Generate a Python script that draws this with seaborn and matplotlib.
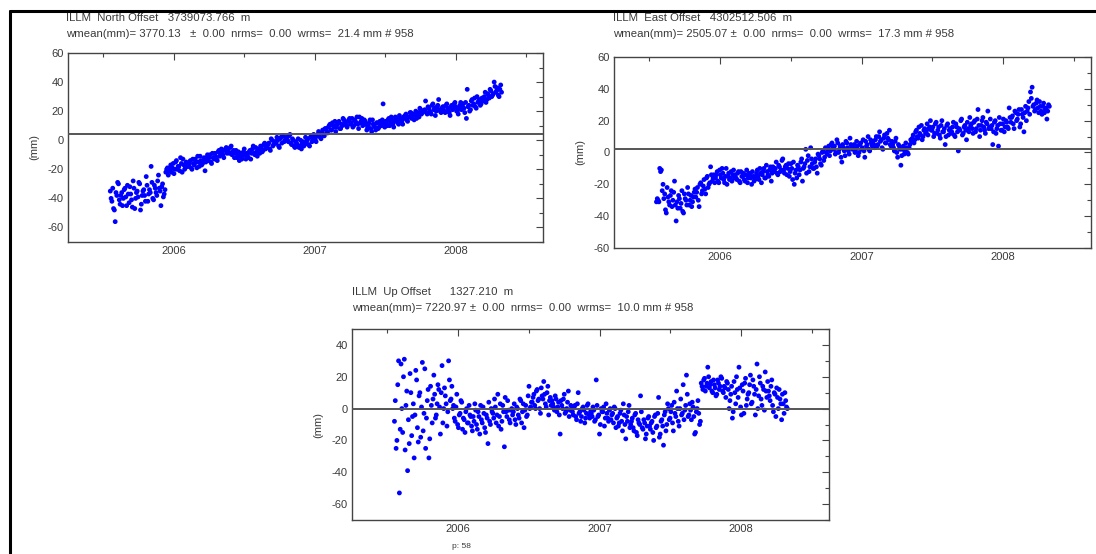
import numpy as np
import pandas as pd
import matplotlib
matplotlib.use("Agg")
import matplotlib.pyplot as plt
from matplotlib.lines import Line2D
from matplotlib.ticker import MultipleLocator
import seaborn as sns

# ---------------- data (mm) ----------------
epoch_start = 2005.55
epoch_end = 2008.32

north_mm = [
    -35, -42, -47, -56, -38, -30, -44, -36, -40, -33, -45, -37,
    -32, -41, -28, -47, -36, -39, -30, -44, -35, -38, -25, -42,
    -34, -18, -40, -31, -36, -28, -33, -45, -30, -37, -22, -19,
    -21, -17, -19, -23, -15, -20, -18, -12, -22, -17, -19, -16,
    -18, -14, -20, -16, -13, -19, -15, -11, -17, -14, -21, -12,
    -14, -10, -16, -12, -9, -13, -8, -11, -6, -10, -7, -5,
    -6, -9, -4, -8, -12, -7, -10, -14, -9, -11, -6, -13,
    -10, -8, -13, -6, -9, -5, -11, -7, -4, -8, -3, -6,
    -5, -2, -7, 0, -3, -1, 2, -4, 1, -2, 3, 0,
    2, -1, 4, -3, 0, -5, -2, 1, -4, -6, -1, -3,
    -2, 1, -4, 3, 0, 2, -1, 4, 5, 1, 7, 3,
    8, 5, 10, 7, 12, 9, 6, 11, 13, 8, 10, 14,
    12, 9, 14, 11, 15, 10, 13, 16, 8, 12, 15, 11,
    13, 7, 10, 14, 6, 11, 9, 12, 8, 13, 10, 25,
    9, 12, 14, 10, 16, 11, 13, 15, 12, 17, 14, 11,
    15, 18, 13, 16, 19, 17, 14, 20, 18, 16, 21, 19,
    20, 27, 18, 22, 19, 24, 21, 17, 23, 28, 20, 22,
    23, 19, 25, 21, 17, 24, 22, 26, 20, 18, 24, 21,
    25, 19, 15, 23, 20, 27, 24, 29, 22, 26, 28, 25,
    27, 30, 26, 32, 29, 34, 31, 40, 33, 36, 30, 38,
]
north_mm_mid = [
    -40, -33, -48, -36, -29, -41, -38, -45, -34, -39, -31, -43,
    -37, -46, -33, -40, -35, -29, -48, -38, -34, -42, -31, -37,
    -36, -29, -41, -33, -38, -24, -35, -32, -39, -34, -20, -24,
    -19, -22, -16, -20, -14, -18, -21, -16, -13, -20, -15, -18,
    -16, -19, -13, -17, -15, -11, -18, -14, -16, -12, -15, -10,
    -12, -15, -9, -13, -11, -14, -7, -10, -8, -12, -6, -9,
    -8, -5, -10, -7, -9, -12, -8, -11, -13, -8, -10, -9,
    -12, -7, -9, -4, -10, -8, -6, -9, -5, -7, -2, -5,
    -3, -6, 1, -4, -1, -2, 0, -5, 2, 3, -1, 1,
    0, 3, -2, 1, -4, -1, -3, -5, 0, -2, -4, 2,
    0, -3, 2, -1, 4, 1, 3, 6, 2, 5, 4, 8,
    6, 9, 11, 7, 10, 13, 9, 12, 8, 11, 15, 12,
    10, 13, 15, 12, 9, 14, 12, 11, 16, 13, 10, 14,
    11, 9, 12, 8, 14, 10, 7, 12, 9, 11, 14, 12,
    13, 10, 15, 12, 14, 9, 16, 13, 11, 15, 13, 16,
    17, 14, 16, 19, 15, 18, 17, 15, 19, 22, 18, 20,
    21, 19, 23, 20, 18, 25, 22, 20, 24, 21, 19, 23,
    20, 24, 22, 19, 23, 21, 25, 23, 20, 22, 26, 23,
    22, 26, 35, 24, 21, 28, 25, 23, 30, 27, 24, 29,
    29, 33, 28, 31, 35, 30, 32, 37, 34, 31, 35, 33,
]

east_mm = [
    -31, -30, -10, -11, -20, -26, -38, -28, -33, -24, -30, -18,
    -43, -35, -29, -32, -37, -26, -30, -22, -33, -27, -31, -25,
    -28, -22, -34, -19, -24, -17, -26, -15, -20, -9, -18, -14,
    -16, -12, -19, -14, -10, -17, -15, -20, -13, -16, -18, -11,
    -14, -17, -12, -19, -15, -13, -18, -11, -16, -14, -20, -15,
    -17, -13, -15, -10, -19, -12, -16, -8, -14, -11, -18, -9,
    -12, -6, -14, -9, -11, -4, -13, -8, -10, -15, -7, -17,
    -20, -11, -8, -14, -6, -18, -9, 2, -5, -12, 3, -7,
    -10, -4, -13, -2, -7, 0, -5, 3, -1, 4, 1, 6,
    2, -1, 8, 0, 4, -6, 3, -2, 6, 1, 9, 4,
    3, 0, 7, -2, 5, 2, 8, -3, 4, 10, 1, 6,
    7, 3, 10, 5, 13, 8, 2, 11, 6, 9, 14, 4,
    5, 1, 9, -3, 4, -8, 2, -1, 6, 0, 3, 8,
    9, 6, 13, 10, 16, 11, 8, 14, 12, 18, 15, 20,
    14, 10, 18, 12, 16, 9, 20, 13, 5, 17, 11, 15,
    13, 19, 10, 16, 1, 14, 21, 12, 17, 8, 15, 22,
    18, 12, 20, 15, 27, 10, 17, 22, 14, 19, 26, 16,
    15, 5, 19, 12, 17, 22, 14, 18, 13, 20, 16, 28,
    19, 23, 15, 25, 21, 27, 18, 24, 13, 29, 26, 32,
    38, 41, 30, 27, 33, 25, 29, 24, 31, 27, 21, 30,
]
east_mm_mid = [
    -29, -31, -12, -24, -29, -36, -22, -31, -27, -34, -25, -33,
    -31, -27, -35, -24, -38, -29, -33, -26, -30, -34, -28, -23,
    -25, -30, -20, -26, -21, -23, -16, -22, -19, -14, -16, -19,
    -14, -18, -11, -16, -13, -19, -10, -15, -17, -12, -14, -16,
    -16, -13, -18, -12, -15, -17, -14, -19, -13, -16, -12, -18,
    -15, -11, -17, -13, -14, -10, -16, -12, -15, -9, -13, -11,
    -10, -13, -8, -12, -5, -11, -9, -14, -7, -12, -10, -6,
    -13, -16, -9, -11, -4, -10, -7, -13, -2, -9, -4, -10,
    -6, -9, -1, -4, -8, 1, -3, 0, 2, -2, 5, 3,
    4, 0, 6, 2, -3, 5, 1, 7, 3, -1, 5, 2,
    5, 2, 4, 0, 6, 3, 1, 7, 5, 2, 8, 4,
    5, 8, 4, 10, 7, 3, 9, 6, 12, 8, 5, 7,
    3, 7, 0, 5, 2, -2, 4, 1, 3, -1, 5, 7,
    11, 8, 14, 9, 12, 17, 10, 15, 13, 11, 16, 14,
    16, 12, 19, 14, 11, 17, 13, 15, 10, 18, 14, 12,
    16, 11, 18, 13, 15, 20, 11, 16, 14, 19, 13, 17,
    15, 19, 13, 21, 17, 14, 20, 16, 12, 18, 15, 21,
    17, 13, 20, 15, 4, 18, 14, 21, 16, 19, 15, 22,
    22, 18, 26, 20, 24, 16, 27, 22, 25, 20, 28, 24,
    34, 29, 26, 31, 28, 32, 26, 29, 25, 28, 26, 29,
]

up_mm = [
    -8, -25, 15, -53, 28, -15, 31, 2, -39, -22, 10, -5,
    -31, 24, -12, 8, -18, 29, -3, -25, 5, -31, 14, -9,
    21, -6, 3, 12, -16, 27, 0, 8, -11, 30, 5, 14,
    2, -8, 9, -12, -3, 4, -6, -15, 0, -9, -4, -11,
    -5, 3, -10, -2, -16, -7, 1, -12, -4, -22, -8, 0,
    -3, 6, -9, 9, -5, -13, 2, -24, -2, 5, -7, -1,
    -4, 3, -10, 0, -6, 5, -2, -12, 2, -4, 14, 1,
    4, 9, 0, 12, 6, -3, 8, 17, 3, 10, -4, 7,
    5, 1, 8, -2, 4, -16, 2, 6, -3, 0, 11, -1,
    0, -4, 2, -7, 10, -2, -5, 1, -9, -3, 3, -6,
    -3, 1, -8, 18, -5, -16, 0, -2, -11, 3, -6, -1,
    -7, -3, 1, -12, -5, -9, -1, -14, -4, -19, -8, 2,
    -10, -6, -14, -3, -17, -9, 8, -12, -7, -19, -11, -5,
    -13, -8, -20, -4, -11, 7, -16, -7, -23, -2, -10, 0,
    -6, 2, -14, -3, 11, -8, 0, -4, 15, -1, 21, -5,
    3, -7, 1, -16, -2, 5, -10, 16, 12, 19, 14, 26,
    13, 17, 10, 15, 8, 18, 12, 20, 11, 14, 7, 16,
    0, 9, -6, 17, 3, 12, 26, 1, 15, -3, 19, 6,
    10, 21, 4, 14, -4, 28, 8, 16, 2, 12, 23, 7,
    11, 5, 18, -2, 9, 13, 0, 6, -7, 3, 10, 1,
]
up_mm_mid = [
    5, -20, 30, -13, 0, 20, -26, 11, -7, 22, -17, 3,
    -4, 18, -21, 10, 1, -14, 25, -6, 12, -19, 2, 6,
    9, -4, 15, 1, 10, -9, 13, 3, -2, 18, 6, 0,
    -6, 1, -10, -4, 5, -13, -7, -2, -9, 2, -5, -14,
    -8, -1, -13, -5, 2, -9, -3, -15, -6, 4, -10, -2,
    -6, 1, -4, -11, 3, -8, -2, 7, -5, -1, -9, 0,
    -2, -7, 1, -4, 6, -9, 3, -1, -5, 8, 0, 4,
    7, 2, 11, 5, 0, 13, 6, 9, 1, 14, 5, 2,
    3, -1, 6, 1, -4, 5, 0, 9, -2, 4, -5, 2,
    -2, 1, -5, 3, -3, -8, 0, -1, -6, 2, -4, -2,
    -5, -1, -7, 2, -4, -10, -2, 1, -6, -3, -8, 0,
    -4, -9, 0, -6, -11, -3, -8, 3, -10, -5, -2, -12,
    -8, -12, -4, -15, -7, -10, -2, -13, -9, -16, -6, -11,
    -9, -15, -5, -12, -3, -18, -8, -11, -4, -14, 3, -7,
    -2, -9, 4, -5, 0, -11, 6, -3, -7, 2, 9, -4,
    -1, 4, -5, -15, 0, -3, -8, 14, 18, 11, 16, 20,
    15, 11, 18, 13, 9, 16, 14, 19, 10, 13, 17, 12,
    5, 14, -2, 10, 20, 7, 13, -4, 11, 16, 2, 9,
    15, 3, 18, 9, 12, 0, 20, 6, 14, -1, 11, 17,
    8, 14, 2, 10, -5, 7, 12, 3, 9, -3, 5, 0,
]

ref_line_mm = {"North": 4, "East": 2, "Up": 0}

titles = {
    "North": ["ILLM  North Offset   3739073.766  m",
              "wmean(mm)= 3770.13   ±  0.00  nrms=  0.00  wrms=  21.4 mm # 958"],
    "East": ["ILLM  East Offset   4302512.506  m",
             "wmean(mm)= 2505.07 ±  0.00  nrms=  0.00  wrms=  17.3 mm # 958"],
    "Up": ["ILLM  Up Offset      1327.210  m",
           "wmean(mm)= 7220.97 ±  0.00  nrms=  0.00  wrms=  10.0 mm # 958"],
}
year_ticks = [2006, 2007, 2008]
footer = "p: 58"

# ---------------- figure ----------------
sns.set_theme(style="white")
plt.rcParams["font.family"] = ["Liberation Sans", "DejaVu Sans"]

W, H = 1096, 554
fig = plt.figure(figsize=(W / 100, H / 100), dpi=100)
fig.patch.set_facecolor("white")

def px_axes(left, top, right, bottom):
    return fig.add_axes([left / W, 1 - bottom / H, (right - left) / W, (bottom - top) / H])

def series_frame(vals, vals_mid):
    n = len(vals)
    t = np.linspace(epoch_start, epoch_end, n)
    half = (t[1] - t[0]) / 2
    return pd.DataFrame({"year": np.concatenate([t, t[: len(vals_mid)] + half]),
                         "mm": list(vals) + list(vals_mid)})

panels = {
    "North": dict(box=(68, 53, 543, 242), ylim=(-70, 60), yticks=[-60, -40, -20, 0, 20, 40, 60],
                  title_xy=(66, 18), data=(north_mm, north_mm_mid)),
    "East": dict(box=(614, 57, 1091, 248), ylim=(-60, 60), yticks=[-60, -40, -20, 0, 20, 40, 60],
                 title_xy=(613, 18), data=(east_mm, east_mm_mid)),
    "Up": dict(box=(352, 329, 829, 520), ylim=(-70, 50), yticks=[-60, -40, -20, 0, 20, 40],
               title_xy=(352, 292), data=(up_mm, up_mm_mid)),
}

txt_color = "#3a3a3a"
fs = 8.2
for name, p in panels.items():
    df = series_frame(*p["data"])
    ax = px_axes(*p["box"])
    sns.scatterplot(data=df, x="year", y="mm", ax=ax, color="#0000ff", s=12,
                    linewidth=0, edgecolor="none", legend=False)
    ax.axhline(ref_line_mm[name], color="#555555", lw=1.4, zorder=3)
    ax.set_xlim(2005.25, 2008.62)
    ax.set_ylim(*p["ylim"])
    ax.set_xticks(year_ticks)
    ax.set_xticklabels([str(y) for y in year_ticks])
    ax.set_yticks(p["yticks"])
    ax.set_yticklabels([str(v) for v in p["yticks"]])
    ax.xaxis.set_minor_locator(MultipleLocator(0.5))
    ax.yaxis.set_minor_locator(MultipleLocator(10))
    ax.tick_params(which="both", direction="in", top=True, right=True,
                   colors="#444444", labelcolor=txt_color, labelsize=8, width=0.8)
    ax.tick_params(which="major", length=5, pad=3)
    ax.tick_params(which="minor", length=3)
    ax.set_xlabel("")
    ax.set_ylabel("(mm)", fontsize=8, color=txt_color, labelpad=6)
    for sp in ax.spines.values():
        sp.set_color("#444444")
        sp.set_linewidth(1.0)
    tx, ty = p["title_xy"]
    fig.text(tx / W, 1 - ty / H, titles[name][0], fontsize=fs, color=txt_color, va="center", ha="left")
    fig.text(tx / W, 1 - (ty + 16) / H, titles[name][1], fontsize=fs, color=txt_color, va="center", ha="left")

fig.text(452 / W, 1 - 547 / H, footer, fontsize=6, color=txt_color, va="center", ha="left")

# page frame
fig.add_artist(Line2D([10 / W, 1.0], [1 - 11 / H, 1 - 11 / H], transform=fig.transFigure, color="black", lw=2.2))
fig.add_artist(Line2D([10 / W, 10 / W], [1 - 11 / H, 0.0], transform=fig.transFigure, color="black", lw=2.2))

fig.savefig("out.png", dpi=100, facecolor="white")
